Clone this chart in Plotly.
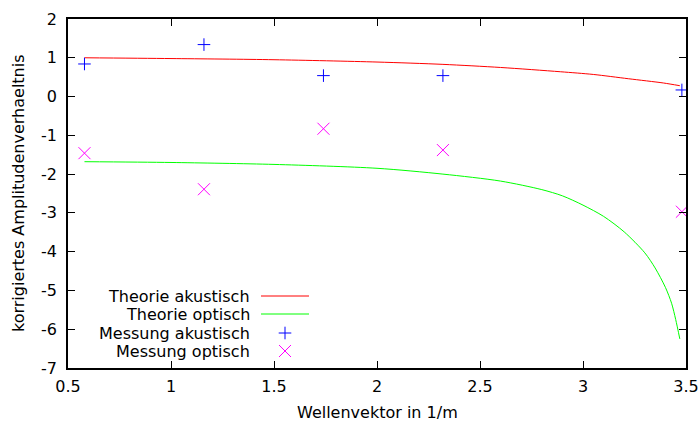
import plotly.graph_objects as go

# ---------------- data ----------------
k_mess = [0.58, 1.16, 1.74, 2.32, 3.48]
a_mess_akust = [0.84, 1.34, 0.54, 0.54, 0.17]
a_mess_opt = [-1.46, -2.39, -0.83, -1.38, -2.97]

k_theo_akust = [0.58, 1.0, 1.5, 2.0, 2.32, 2.6, 2.89, 3.05, 3.22, 3.39, 3.47]
a_theo_akust = [1.0, 0.98, 0.95, 0.89, 0.83, 0.75, 0.64, 0.57, 0.46, 0.35, 0.28]

k_theo_opt = [0.58, 1.0, 1.5, 2.0, 2.32, 2.6, 2.8, 2.9, 3.0, 3.1, 3.2, 3.3, 3.35, 3.4, 3.43, 3.45, 3.47]
a_theo_opt = [-1.68, -1.70, -1.75, -1.85, -2.0, -2.18, -2.40, -2.56, -2.80, -3.09, -3.49, -4.03,
              -4.42, -4.92, -5.33, -5.75, -6.25]

x_ticks = [0.5, 1, 1.5, 2, 2.5, 3, 3.5]
x_ticklabels = ["0.5", "1", "1.5", "2", "2.5", "3", "3.5"]
y_ticks = [-7, -6, -5, -4, -3, -2, -1, 0, 1, 2]
y_ticklabels = ["-7", "-6", "-5", "-4", "-3", "-2", "-1", "0", "1", "2"]

series_names = ["Theorie akustisch", "Theorie optisch", "Messung akustisch", "Messung optisch"]
series_colors = ["#ff0000", "#00ff00", "#0000ff", "#ff00ff"]

x_title = "Wellenvektor in 1/m"
y_title = "korrigiertes Amplitudenverhaeltnis"

# ---------------- layout geometry ----------------
W, H = 698, 421
L, R, T, B = 68, 686, 19, 368
FONT = "DejaVu Sans"
FS = 16


def pp(px, py):
    return (px - L) / (R - L), (B - py) / (B - T)


fig = go.Figure()
fig.add_trace(go.Scatter(x=k_theo_akust, y=a_theo_akust, mode="lines", name=series_names[0],
                         line=dict(color=series_colors[0], width=1, shape="spline", smoothing=0.8)))
fig.add_trace(go.Scatter(x=k_theo_opt, y=a_theo_opt, mode="lines", name=series_names[1],
                         line=dict(color=series_colors[1], width=1, shape="spline", smoothing=0.8)))
fig.add_trace(go.Scatter(x=k_mess, y=a_mess_akust, mode="markers", name=series_names[2],
                         marker=dict(symbol="cross-thin", size=9, color=series_colors[2],
                                     line=dict(color=series_colors[2], width=1))))
fig.add_trace(go.Scatter(x=k_mess, y=a_mess_opt, mode="markers", name=series_names[3],
                         marker=dict(symbol="x-thin", size=12, color=series_colors[3],
                                     line=dict(color=series_colors[3], width=1))))

# ---------------- manual gnuplot-style key (text left, sample right) ----------------
row_y = [296, 314, 333, 351]
text_right = 251
shapes = []
annotations = []
for i, (name, col) in enumerate(zip(series_names, series_colors)):
    tx, ty = pp(text_right, row_y[i])
    annotations.append(dict(x=tx, y=ty, xref="paper", yref="paper", text=name, showarrow=False,
                            xanchor="right", yanchor="middle", height=17, borderpad=0,
                            valign="middle",
                            font=dict(family=FONT, size=FS, color="#000000")))
    if i < 2:
        x0, y0 = pp(261, row_y[i])
        x1, _ = pp(309, row_y[i])
        shapes.append(dict(type="line", xref="paper", yref="paper", x0=x0, x1=x1, y0=y0, y1=y0,
                           line=dict(color=col, width=1)))
    elif i == 2:
        cx, cy = 285, row_y[i]
        a0, b0 = pp(cx - 6.3, cy)
        a1, b1 = pp(cx + 6.3, cy)
        shapes.append(dict(type="line", xref="paper", yref="paper", x0=a0, x1=a1, y0=b0, y1=b1,
                           line=dict(color=col, width=1)))
        a0, b0 = pp(cx, cy - 6.3)
        a1, b1 = pp(cx, cy + 6.3)
        shapes.append(dict(type="line", xref="paper", yref="paper", x0=a0, x1=a1, y0=b0, y1=b1,
                           line=dict(color=col, width=1)))
    else:
        cx, cy = 285, row_y[i]
        for s in (1, -1):
            a0, b0 = pp(cx - 6, cy - 6 * s)
            a1, b1 = pp(cx + 6, cy + 6 * s)
            shapes.append(dict(type="line", xref="paper", yref="paper", x0=a0, x1=a1, y0=b0, y1=b1,
                               line=dict(color=col, width=1)))

# axis titles as annotations for exact placement
xt, yt = pp(377, 412)
annotations.append(dict(x=xt, y=yt, xref="paper", yref="paper", text=x_title, showarrow=False,
                        xanchor="center", yanchor="middle",
                        font=dict(family=FONT, size=FS, color="#000000")))
xt, yt = pp(18, 193)
annotations.append(dict(x=xt, y=yt, xref="paper", yref="paper", text=y_title, showarrow=False,
                        xanchor="center", yanchor="middle", textangle=-90,
                        font=dict(family=FONT, size=FS, color="#000000")))

axis_common = dict(showline=True, linecolor="#000000", linewidth=1.5, mirror="ticks",
                   ticks="inside", ticklen=7, tickwidth=1, tickcolor="#000000",
                   showgrid=False, zeroline=False, automargin=False,
                   ticklabeloverflow="allow",
                   tickfont=dict(family=FONT, size=FS, color="#000000"))

fig.update_layout(
    width=W, height=H,
    margin=dict(l=L, r=W - R, t=T, b=H - B, pad=0),
    paper_bgcolor="#ffffff", plot_bgcolor="#ffffff",
    showlegend=False,
    font=dict(family=FONT, size=FS, color="#000000"),
    shapes=shapes, annotations=annotations,
    xaxis=dict(range=[0.5, 3.5], tickvals=x_ticks, ticktext=x_ticklabels,
               ticklabelstandoff=3, **axis_common),
    yaxis=dict(range=[-7, 2], tickvals=y_ticks, ticktext=y_ticklabels,
               ticklabelstandoff=6, **axis_common),
)

fig.write_html("out.html")
